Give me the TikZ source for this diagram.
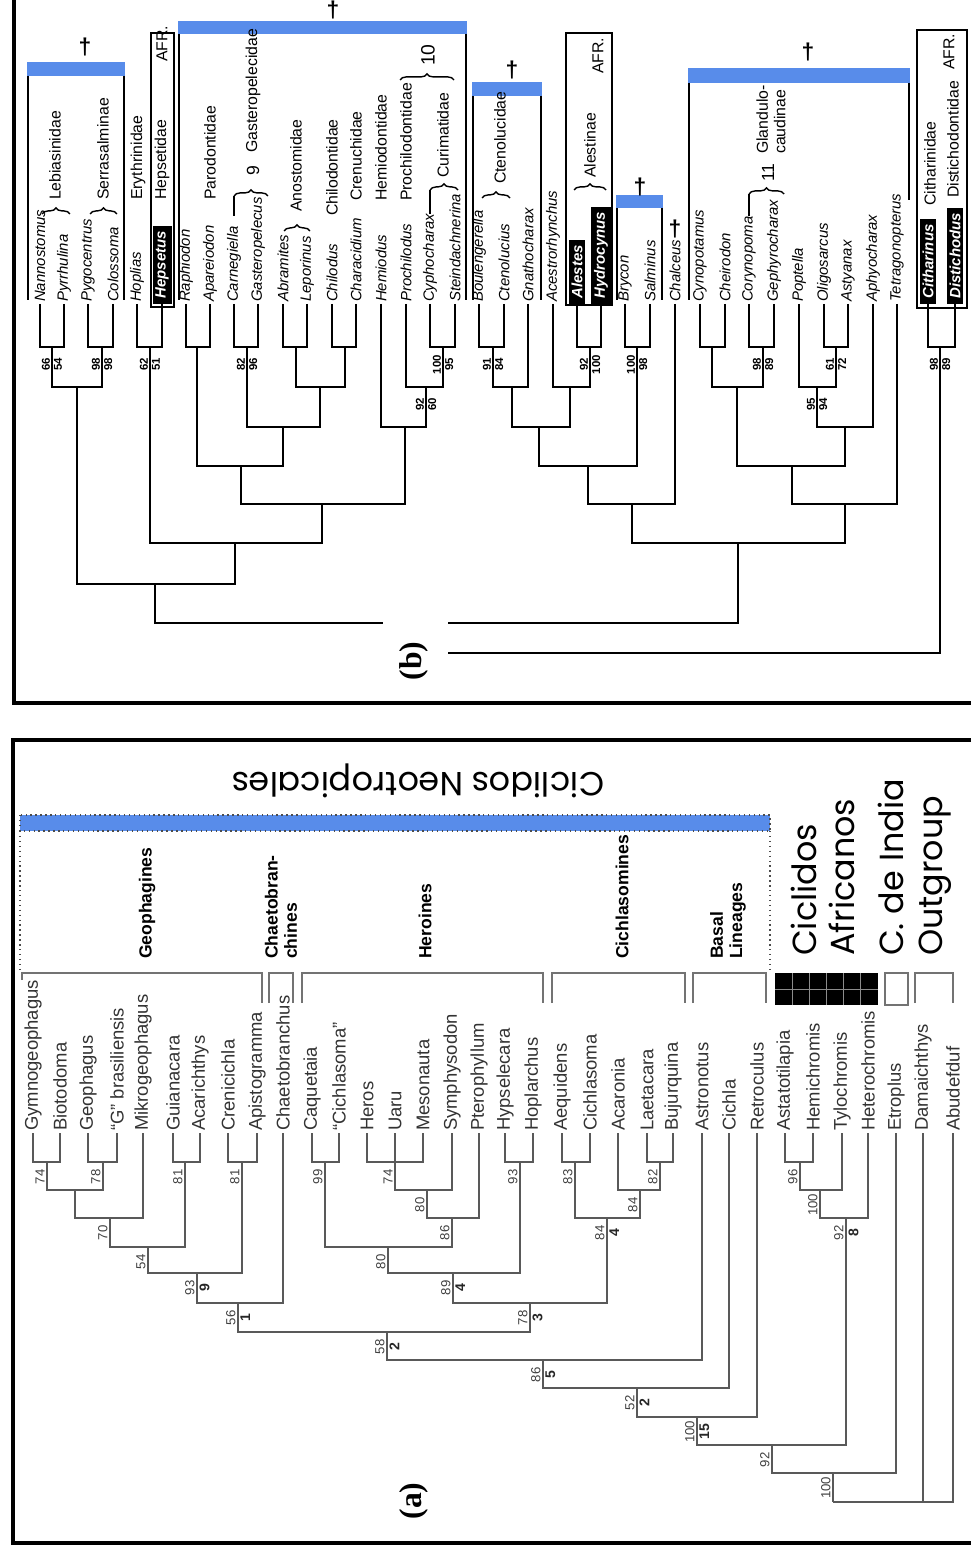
\documentclass[tikz,border=0pt]{standalone}
\usepackage{fontspec}
\setmainfont{Liberation Sans}
\newfontfamily\gothicfont{Poppins}
\newfontfamily\labfont{Liberation Serif}
\usetikzlibrary{positioning, calc, decorations.pathreplacing}
\definecolor{barblue}{RGB}{88,140,234}

\tikzset{
  frame/.style={line width=2.8pt},
  edgeb/.style={line width=1.4pt},
  edgea/.style={line width=0.8pt, draw=black!65},
  thinb/.style={line width=0.6pt},
  tipb/.style={rotate=90, anchor=west, inner sep=1pt, font=\fontsize{8.5}{9}\selectfont\itshape},
  tipblk/.style={tipb, fill=black, text=white, inner xsep=3pt, inner ysep=1.6pt, font=\fontsize{8.5}{9}\selectfont\bfseries\itshape},
  famb/.style={rotate=90, anchor=west, inner sep=1pt, align=left, font=\fontsize{9}{10}\selectfont},
  brc/.style={decorate, decoration={brace, amplitude=3.5pt}, line width=0.8pt},
  dagg/.style={font=\fontsize{13}{13}\selectfont\bfseries, inner sep=0pt},
  afr/.style={line width=1.2pt},
  nbl/.style={rotate=90, anchor=south, inner sep=1pt, font=\fontsize{6.5}{7}\selectfont\bfseries},
  nbr/.style={nbl, anchor=north},
  tipa/.style={rotate=90, anchor=west, inner sep=1pt, text=black!80, font=\fontsize{10.5}{11}\selectfont},
  nla/.style={rotate=90, anchor=south, inner sep=1.2pt, text=black!75, font=\fontsize{7.5}{8}\selectfont},
  nra/.style={nla, anchor=north, text=black!85, font=\fontsize{8}{8}\selectfont\bfseries},
  cladebox/.style={draw=black!55, line width=0.8pt},
  cladelab/.style={rotate=90, anchor=west, align=left, font=\fontsize{10}{11}\selectfont\bfseries},
  biglab/.style={rotate=90, anchor=west, align=left, font=\gothicfont\fontsize{19}{22}\selectfont},
  panlab/.style={rotate=90, font=\labfont\fontsize{18}{18}\selectfont\bfseries},
}

\begin{document}
\begin{tikzpicture}[x=0.02cm, y=-0.02cm]
    \useasboundingbox (0,0) rectangle (971,1554);

    % 枠
    \draw[frame] (14,0) -- (14,703) -- (971,703);
    \draw[frame] (971,740) -- (13,740) -- (13,1543) -- (971,1543);

    %%%%%%%%%% (b) %%%%%%%%%%
    % 青いバー
    \fill[barblue] (27,62) rectangle (125,76);
    \fill[barblue] (178,21) rectangle (467,34);
    \fill[barblue] (472,82) rectangle (542,96);
    \fill[barblue] (616,195) rectangle (663,208);
    \fill[barblue] (688,68) rectangle (910,83);
    \draw[thinb] (28,76) -- (28,300);
    \draw[thinb] (124,76) -- (124,300);
    \draw[thinb] (179,34) -- (179,300);
    \draw[thinb] (466,34) -- (466,300);
    \draw[thinb] (473,96) -- (473,300);
    \draw[thinb] (541,96) -- (541,300);
    \draw[thinb] (617,208) -- (617,300);
    \draw[thinb] (662,208) -- (662,300);
    \draw[thinb] (689,83) -- (689,300);
    \draw[thinb] (909,83) -- (909,200);

    % 十字
    \node[dagg] (dg1) at (85,47) {\textdagger};
    \node[dagg] (dg2) at (333,10) {\textdagger};
    \node[dagg] (dg3) at (512,70) {\textdagger};
    \node[dagg] (dg4) at (640,187) {\textdagger};
    \node[dagg] (dg5) at (675,229) {\textdagger};
    \node[dagg] (dg6) at (808,52) {\textdagger};

    % AFR. の枠
    \draw[afr] (151,33) rectangle (174,307);
    \draw[afr] (566,33) rectangle (612,305);
    \draw[afr] (917,30) rectangle (967,308);

    % 種名
    \node[tipb] (Nann) at (40,304) {Nannostomus};
    \node[tipb] (Pyrr) at (64,304) {Pyrrhulina};
    \node[tipb] (Pygo) at (88,304) {Pygocentrus};
    \node[tipb] (Colo) at (113,304) {Colossoma};
    \node[tipb] (Hopl) at (137,304) {Hoplias};
    \node[tipblk] (Heps) at (162,304) {Hepsetus};
    \node[tipb] (Raph) at (186,304) {Raphiodon};
    \node[tipb] (Apar) at (210,304) {Apareiodon};
    \node[tipb] (Carn) at (234,304) {Carnegiella};
    \node[tipb] (Gast) at (258,304) {Gasteropelecus};
    \node[tipb] (Abra) at (283,304) {Abramites};
    \node[tipb] (Lepo) at (307,304) {Leporinus};
    \node[tipb] (Chil) at (332,304) {Chilodus};
    \node[tipb] (Char) at (356,304) {Characidium};
    \node[tipb] (Hemi) at (381,304) {Hemiodus};
    \node[tipb] (Proc) at (406,304) {Prochilodus};
    \node[tipb] (Cyph) at (430,304) {Cyphocharax};
    \node[tipb] (Stei) at (455,304) {Steindachnerina};
    \node[tipb] (Boul) at (479,304) {Boulengerella};
    \node[tipb] (Cten) at (504,304) {Ctenolucius};
    \node[tipb] (Gnat) at (528,304) {Gnathocharax};
    \node[tipb] (Aces) at (553,304) {Acestrorhynchus};
    \node[tipblk] (Ales) at (577,304) {Alestes};
    \node[tipblk] (Hydr) at (601,304) {Hydrocynus};
    \node[tipb] (Bryc) at (625,304) {Brycon};
    \node[tipb] (Salm) at (650,304) {Salminus};
    \node[tipb] (Chal) at (675,304) {Chalceus};
    \node[tipb] (Cyno) at (700,304) {Cynopotamus};
    \node[tipb] (Chei) at (725,304) {Cheirodon};
    \node[tipb] (Cory) at (749,304) {Corynopoma};
    \node[tipb] (Geph) at (774,304) {Gephyrocharax};
    \node[tipb] (Popt) at (799,304) {Poptella};
    \node[tipb] (Olig) at (824,304) {Oligosarcus};
    \node[tipb] (Asty) at (848,304) {Astyanax};
    \node[tipb] (Aphy) at (873,304) {Aphyocharax};
    \node[tipb] (Tetr) at (897,304) {Tetragonopterus};
    \node[tipblk] (Cith) at (928,304) {Citharinus};
    \node[tipblk] (Dist) at (955,304) {Distichodus};

    % 科名
    \node[famb] (lebi) at (55,202) {Lebiasinidae};
    \draw[brc] (42,214) -- (70,214);
    \node[famb] (serr) at (103,202) {Serrasalminae};
    \draw[brc] (90,214) -- (117,214);
    \node[famb] (eryt) at (138,202) {Erythrinidae};
    \node[famb] (heps) at (162,202) {Hepsetidae};
    \node[famb] (afr1) at (162,64) {AFR.};
    \node[famb] (paro) at (210,202) {Parodontidae};
    \node[famb] (gaste) at (253,155) {Gasteropelecidae};
    \node[famb, font=\fontsize{10}{10}\selectfont] (n9) at (253,178) {9};
    \draw[thinb] (234,216) -- (234,196);
    \draw[brc] (234,196) -- (268,196);
    \node[famb] (anos) at (296,214) {Anostomidae};
    \draw[brc] (284,231) -- (310,231);
    \node[famb] (chilo) at (332,218) {Chilodontidae};
    \node[famb] (cren) at (356,203) {Crenuchidae};
    \node[famb] (hemio) at (381,203) {Hemiodontidae};
    \node[famb] (proch) at (406,203) {Prochilodontidae};
    \node[famb] (curi) at (443,180) {Curimatidae};
    \draw[thinb] (430,214) -- (430,190);
    \draw[brc] (430,190) -- (458,190);
    \draw[brc] (400,80) -- (454,80);
    \node[famb, font=\fontsize{11}{11}\selectfont] (n10) at (428,68) {10};
    \node[famb] (cteno) at (500,186) {Ctenolucidae};
    \draw[brc] (482,198) -- (510,198);
    \node[famb] (ales) at (590,180) {Alestinae};
    \draw[brc] (574,190) -- (606,190);
    \node[famb] (afr2) at (598,76) {AFR.};
    \node[famb] (glan) at (771,156) {Glandulo-\\caudinae};
    \node[famb, font=\fontsize{10}{10}\selectfont] (n11) at (768,184) {11};
    \draw[thinb] (749,216) -- (749,194);
    \draw[brc] (749,194) -- (784,194);
    \node[famb] (cith) at (930,208) {Citharinidae};
    \node[famb] (dist) at (953,200) {Distichodontidae};
    \node[famb] (afr3) at (949,72) {AFR.};

    % 分岐点
    \coordinate (b1) at (52,347);
    \coordinate (b2) at (102,347);
    \coordinate (b3) at (77,387);
    \coordinate (b4) at (150,347);
    \coordinate (b5) at (197,347);
    \coordinate (b6) at (247,347);
    \coordinate (b7) at (296,347);
    \coordinate (b8) at (345,347);
    \coordinate (b9) at (320,387);
    \coordinate (b10) at (283,427);
    \coordinate (b11) at (241,466);
    \coordinate (b12) at (443,347);
    \coordinate (b13) at (426,387);
    \coordinate (b14) at (405,427);
    \coordinate (b15) at (322,504);
    \coordinate (b16) at (235,543);
    \coordinate (b17) at (155,584);
    \coordinate (b18) at (493,347);
    \coordinate (b19) at (512,387);
    \coordinate (b20) at (590,347);
    \coordinate (b21) at (570,387);
    \coordinate (b22) at (539,427);
    \coordinate (b23) at (637,347);
    \coordinate (b24) at (588,466);
    \coordinate (b25) at (632,504);
    \coordinate (b26) at (712,347);
    \coordinate (b27) at (763,347);
    \coordinate (b28) at (737,387);
    \coordinate (b29) at (836,347);
    \coordinate (b30) at (817,387);
    \coordinate (b31) at (845,427);
    \coordinate (b32) at (792,466);
    \coordinate (b33) at (845,504);
    \coordinate (b34) at (738,543);
    \coordinate (b35) at (415,623);
    \coordinate (b36) at (940,347);
    \coordinate (b37) at (415,653);

    % 枝
    \draw[edgeb] (Nann.west) |- (b1);
    \draw[edgeb] (Pyrr.west) |- (b1);
    \draw[edgeb] (Pygo.west) |- (b2);
    \draw[edgeb] (Colo.west) |- (b2);
    \draw[edgeb] (b1) |- (b3);
    \draw[edgeb] (b2) |- (b3);
    \draw[edgeb] (Hopl.west) |- (b4);
    \draw[edgeb] (Heps.west) |- (b4);
    \draw[edgeb] (Raph.west) |- (b5);
    \draw[edgeb] (Apar.west) |- (b5);
    \draw[edgeb] (Carn.west) |- (b6);
    \draw[edgeb] (Gast.west) |- (b6);
    \draw[edgeb] (Abra.west) |- (b7);
    \draw[edgeb] (Lepo.west) |- (b7);
    \draw[edgeb] (Chil.west) |- (b8);
    \draw[edgeb] (Char.west) |- (b8);
    \draw[edgeb] (b7) |- (b9);
    \draw[edgeb] (b8) |- (b9);
    \draw[edgeb] (b6) |- (b10);
    \draw[edgeb] (b9) |- (b10);
    \draw[edgeb] (b5) |- (b11);
    \draw[edgeb] (b10) |- (b11);
    \draw[edgeb] (Cyph.west) |- (b12);
    \draw[edgeb] (Stei.west) |- (b12);
    \draw[edgeb] (Proc.west) |- (b13);
    \draw[edgeb] (b12) |- (b13);
    \draw[edgeb] (Hemi.west) |- (b14);
    \draw[edgeb] (b13) |- (b14);
    \draw[edgeb] (b11) |- (b15);
    \draw[edgeb] (b14) |- (b15);
    \draw[edgeb] (b4) |- (b16);
    \draw[edgeb] (b15) |- (b16);
    \draw[edgeb] (b3) |- (b17);
    \draw[edgeb] (b16) |- (b17);
    \draw[edgeb] (Boul.west) |- (b18);
    \draw[edgeb] (Cten.west) |- (b18);
    \draw[edgeb] (b18) |- (b19);
    \draw[edgeb] (Gnat.west) |- (b19);
    \draw[edgeb] (Ales.west) |- (b20);
    \draw[edgeb] (Hydr.west) |- (b20);
    \draw[edgeb] (Aces.west) |- (b21);
    \draw[edgeb] (b20) |- (b21);
    \draw[edgeb] (b19) |- (b22);
    \draw[edgeb] (b21) |- (b22);
    \draw[edgeb] (Bryc.west) |- (b23);
    \draw[edgeb] (Salm.west) |- (b23);
    \draw[edgeb] (b22) |- (b24);
    \draw[edgeb] (b23) |- (b24);
    \draw[edgeb] (b24) |- (b25);
    \draw[edgeb] (Chal.west) |- (b25);
    \draw[edgeb] (Cyno.west) |- (b26);
    \draw[edgeb] (Chei.west) |- (b26);
    \draw[edgeb] (Cory.west) |- (b27);
    \draw[edgeb] (Geph.west) |- (b27);
    \draw[edgeb] (b26) |- (b28);
    \draw[edgeb] (b27) |- (b28);
    \draw[edgeb] (Olig.west) |- (b29);
    \draw[edgeb] (Asty.west) |- (b29);
    \draw[edgeb] (Popt.west) |- (b30);
    \draw[edgeb] (b29) |- (b30);
    \draw[edgeb] (b30) |- (b31);
    \draw[edgeb] (Aphy.west) |- (b31);
    \draw[edgeb] (b28) |- (b32);
    \draw[edgeb] (b31) |- (b32);
    \draw[edgeb] (b32) |- (b33);
    \draw[edgeb] (Tetr.west) |- (b33);
    \draw[edgeb] (b25) |- (b34);
    \draw[edgeb] (b33) |- (b34);
    \draw[edgeb] (b17) |- (b35);
    \draw[edgeb] (b34) |- (b35);
    \draw[edgeb] (Cith.west) |- (b36);
    \draw[edgeb] (Dist.west) |- (b36);
    \draw[edgeb] (b35) |- (b37);
    \draw[edgeb] (b36) |- (b37);

    % ブートストラップ値
    \node[nbl] (s1l) at ([yshift=-10pt]b1) {66};
    \node[nbr] (s1r) at ([yshift=-10pt]b1) {54};
    \node[nbl] (s2l) at ([yshift=-10pt]b2) {98};
    \node[nbr] (s2r) at ([yshift=-10pt]b2) {98};
    \node[nbl] (s4l) at ([yshift=-10pt]b4) {62};
    \node[nbr] (s4r) at ([yshift=-10pt]b4) {51};
    \node[nbl] (s6l) at ([yshift=-10pt]b6) {82};
    \node[nbr] (s6r) at ([yshift=-10pt]b6) {96};
    \node[nbl] (s12l) at ([yshift=-10pt]b12) {100};
    \node[nbr] (s12r) at ([yshift=-10pt]b12) {95};
    \node[nbl] (s13l) at ([yshift=-10pt]b13) {92};
    \node[nbr] (s13r) at ([yshift=-10pt]b13) {60};
    \node[nbl] (s18l) at ([yshift=-10pt]b18) {91};
    \node[nbr] (s18r) at ([yshift=-10pt]b18) {84};
    \node[nbl] (s20l) at ([yshift=-10pt]b20) {92};
    \node[nbr] (s20r) at ([yshift=-10pt]b20) {100};
    \node[nbl] (s23l) at ([yshift=-10pt]b23) {100};
    \node[nbr] (s23r) at ([yshift=-10pt]b23) {98};
    \node[nbl] (s27l) at ([yshift=-10pt]b27) {98};
    \node[nbr] (s27r) at ([yshift=-10pt]b27) {89};
    \node[nbl] (s29l) at ([yshift=-10pt]b29) {61};
    \node[nbr] (s29r) at ([yshift=-10pt]b29) {72};
    \node[nbl] (s30l) at ([yshift=-10pt]b30) {95};
    \node[nbr] (s30r) at ([yshift=-10pt]b30) {94};
    \node[nbl] (s36l) at ([yshift=-10pt]b36) {98};
    \node[nbr] (s36r) at ([yshift=-10pt]b36) {89};

    % (b)
    \fill[white] (383,612) rectangle (448,698);
    \node[panlab] (labb) at (414,661) {(b)};

    %%%%%%%%%% (a) %%%%%%%%%%
    % 青いバーと見出し
    \node[rotate=180, font=\gothicfont\fontsize{19}{20}\selectfont] (neo) at (418,781) {Ciclidos Neotropicales};
    \filldraw[fill=barblue, draw=black!70, dotted, line width=0.8pt] (20,815) rectangle (770,831);
    \draw[dotted, black!70, line width=0.8pt] (20,831) -- (20,970);
    \draw[dotted, black!70, line width=0.8pt] (770,831) -- (770,970);

    % 群の枠
    \draw[cladebox] (22,980) -- (22,973) -- (262,973) -- (262,1003);
    \draw[cladebox] (269,1003) -- (269,973) -- (293,973) -- (293,1003);
    \draw[cladebox] (302,1003) -- (302,973) -- (543,973) -- (543,1003);
    \draw[cladebox] (552,1003) -- (552,973) -- (685,973) -- (685,1003);
    \draw[cladebox] (693,1003) -- (693,973) -- (766,973) -- (766,1003);
    \fill[black] (775,973) rectangle (878,1005);
    \draw[black!45, line width=0.4pt] (792,973) -- (792,1005) (809,973) -- (809,1005)
        (826,973) -- (826,1005) (843,973) -- (843,1005) (860,973) -- (860,1005)
        (775,989) -- (878,989);
    \draw[cladebox] (885,973) rectangle (908,1005);
    \draw[cladebox] (915,1003) -- (915,973) -- (953,973) -- (953,1003);

    \node[cladelab] (geo) at (147,965) {Geophagines};
    \node[cladelab] (chaet) at (281,965) {Chaetobran-\\chines};
    \node[cladelab] (hero) at (425,965) {Heroines};
    \node[cladelab] (cichl) at (622,965) {Cichlasomines};
    \node[cladelab] (basal) at (728,965) {Basal\\Lineages};
    \node[biglab] (afric) at (823,962) {Ciclidos\\Africanos};
    \node[biglab] (india) at (915,962) {C. de India\\Outgroup};

    % 種名
    \node[tipa] (Gymn) at (33,1133) {Gymnogeophagus};
    \node[tipa] (Biot) at (60,1133) {Biotodoma};
    \node[tipa] (Geop) at (88,1133) {Geophagus};
    \node[tipa] (Gbra) at (117,1133) {``G'' brasiliensis};
    \node[tipa] (Mikr) at (143,1133) {Mikrogeophagus};
    \node[tipa] (Guia) at (173,1133) {Guianacara};
    \node[tipa] (Acar) at (200,1133) {Acarichthys};
    \node[tipa] (Cren) at (228,1133) {Crenicichla};
    \node[tipa] (Apis) at (257,1133) {Apistogramma};
    \node[tipa] (Chae) at (283,1133) {Chaetobranchus};
    \node[tipa] (Caqu) at (312,1133) {Caquetaia};
    \node[tipa] (Cicq) at (339,1133) {``Cichlasoma''};
    \node[tipa] (Hero) at (367,1133) {Heros};
    \node[tipa] (Uaru) at (395,1133) {Uaru};
    \node[tipa] (Meso) at (423,1133) {Mesonauta};
    \node[tipa] (Symp) at (452,1133) {Symphysodon};
    \node[tipa] (Pter) at (479,1133) {Pterophyllum};
    \node[tipa] (Hyps) at (505,1133) {Hypselecara};
    \node[tipa] (Hopa) at (533,1133) {Hoplarchus};
    \node[tipa] (Aequ) at (562,1133) {Aequidens};
    \node[tipa] (Cich) at (590,1133) {Cichlasoma};
    \node[tipa] (Acro) at (618,1133) {Acaronia};
    \node[tipa] (Laet) at (647,1133) {Laetacara};
    \node[tipa] (Buju) at (673,1133) {Bujurquina};
    \node[tipa] (Astr) at (702,1133) {Astronotus};
    \node[tipa] (Cila) at (729,1133) {Cichla};
    \node[tipa] (Retr) at (757,1133) {Retroculus};
    \node[tipa] (Asta) at (785,1133) {Astatotilapia};
    \node[tipa] (Hemc) at (813,1133) {Hemichromis};
    \node[tipa] (Tylo) at (842,1133) {Tylochromis};
    \node[tipa] (Hete) at (868,1133) {Heterochromis};
    \node[tipa] (Etro) at (896,1133) {Etroplus};
    \node[tipa] (Dama) at (923,1133) {Damaichthys};
    \node[tipa] (Abud) at (953,1133) {Abudefduf};

    % 分岐点
    \coordinate (a1) at (47,1162);
    \coordinate (a2) at (103,1162);
    \coordinate (a3) at (75,1190);
    \coordinate (a4) at (110,1218);
    \coordinate (a5) at (185,1162);
    \coordinate (a6) at (148,1247);
    \coordinate (a7) at (242,1162);
    \coordinate (a8) at (197,1273);
    \coordinate (a9) at (238,1303);
    \coordinate (a10) at (325,1162);
    \coordinate (a11) at (395,1162);
    \coordinate (a12) at (427,1190);
    \coordinate (a13) at (452,1218);
    \coordinate (a14) at (388,1247);
    \coordinate (a15) at (520,1162);
    \coordinate (a16) at (453,1273);
    \coordinate (a17) at (575,1162);
    \coordinate (a18) at (660,1162);
    \coordinate (a19) at (640,1190);
    \coordinate (a20) at (607,1218);
    \coordinate (a21) at (530,1303);
    \coordinate (a22) at (387,1332);
    \coordinate (a23) at (543,1360);
    \coordinate (a24) at (637,1388);
    \coordinate (a25) at (697,1417);
    \coordinate (a26) at (800,1162);
    \coordinate (a27) at (820,1190);
    \coordinate (a28) at (846,1218);
    \coordinate (a29) at (772,1445);
    \coordinate (a30) at (833,1473);
    \coordinate (a31) at (833,1502);

    % 枝
    \draw[edgea] (Gymn.west) |- (a1);
    \draw[edgea] (Biot.west) |- (a1);
    \draw[edgea] (Geop.west) |- (a2);
    \draw[edgea] (Gbra.west) |- (a2);
    \draw[edgea] (a1) |- (a3);
    \draw[edgea] (a2) |- (a3);
    \draw[edgea] (a3) |- (a4);
    \draw[edgea] (Mikr.west) |- (a4);
    \draw[edgea] (Guia.west) |- (a5);
    \draw[edgea] (Acar.west) |- (a5);
    \draw[edgea] (a4) |- (a6);
    \draw[edgea] (a5) |- (a6);
    \draw[edgea] (Cren.west) |- (a7);
    \draw[edgea] (Apis.west) |- (a7);
    \draw[edgea] (a6) |- (a8);
    \draw[edgea] (a7) |- (a8);
    \draw[edgea] (a8) |- (a9);
    \draw[edgea] (Chae.west) |- (a9);
    \draw[edgea] (Caqu.west) |- (a10);
    \draw[edgea] (Cicq.west) |- (a10);
    \draw[edgea] (Hero.west) |- (a11);
    \draw[edgea] (Meso.west) |- (a11);
    \draw[edgea] (a11) |- (a12);
    \draw[edgea] (Uaru.west) |- (a12);
    \draw[edgea] (Symp.west) |- (a12);
    \draw[edgea] (a12) |- (a13);
    \draw[edgea] (Pter.west) |- (a13);
    \draw[edgea] (a10) |- (a14);
    \draw[edgea] (a13) |- (a14);
    \draw[edgea] (Hyps.west) |- (a15);
    \draw[edgea] (Hopa.west) |- (a15);
    \draw[edgea] (a14) |- (a16);
    \draw[edgea] (a15) |- (a16);
    \draw[edgea] (Aequ.west) |- (a17);
    \draw[edgea] (Cich.west) |- (a17);
    \draw[edgea] (Laet.west) |- (a18);
    \draw[edgea] (Buju.west) |- (a18);
    \draw[edgea] (Acro.west) |- (a19);
    \draw[edgea] (a18) |- (a19);
    \draw[edgea] (a17) |- (a20);
    \draw[edgea] (a19) |- (a20);
    \draw[edgea] (a16) |- (a21);
    \draw[edgea] (a20) |- (a21);
    \draw[edgea] (a9) |- (a22);
    \draw[edgea] (a21) |- (a22);
    \draw[edgea] (a22) |- (a23);
    \draw[edgea] (Astr.west) |- (a23);
    \draw[edgea] (a23) |- (a24);
    \draw[edgea] (Cila.west) |- (a24);
    \draw[edgea] (a24) |- (a25);
    \draw[edgea] (Retr.west) |- (a25);
    \draw[edgea] (Asta.west) |- (a26);
    \draw[edgea] (Hemc.west) |- (a26);
    \draw[edgea] (a26) |- (a27);
    \draw[edgea] (Tylo.west) |- (a27);
    \draw[edgea] (a27) |- (a28);
    \draw[edgea] (Hete.west) |- (a28);
    \draw[edgea] (a25) |- (a29);
    \draw[edgea] (a28) |- (a29);
    \draw[edgea] (a29) |- (a30);
    \draw[edgea] (Etro.west) |- (a30);
    \draw[edgea] (a30) |- (a31);
    \draw[edgea] (Dama.west) |- (a31);
    \draw[edgea] (Abud.west) |- (a31);

    % 支持値
    \node[nla] (t1) at ([yshift=-8.5pt]a1) {74};
    \node[nla] (t2) at ([yshift=-8.5pt]a2) {78};
    \node[nla] (t4) at ([yshift=-8.5pt]a4) {70};
    \node[nla] (t5) at ([yshift=-8.5pt]a5) {81};
    \node[nla] (t6) at ([yshift=-8.5pt]a6) {54};
    \node[nla] (t7) at ([yshift=-8.5pt]a7) {81};
    \node[nla] (t8) at ([yshift=-8.5pt]a8) {93};
    \node[nra] (r8) at ([yshift=-8.5pt]a8) {9};
    \node[nla] (t9) at ([yshift=-8.5pt]a9) {56};
    \node[nra] (r9) at ([yshift=-8.5pt]a9) {1};
    \node[nla] (t10) at ([yshift=-8.5pt]a10) {99};
    \node[nla] (t11) at ([yshift=-8.5pt]a11) {74};
    \node[nla] (t12) at ([yshift=-8.5pt]a12) {80};
    \node[nla] (t13) at ([yshift=-8.5pt]a13) {86};
    \node[nla] (t14) at ([yshift=-8.5pt]a14) {80};
    \node[nla] (t15) at ([yshift=-8.5pt]a15) {93};
    \node[nla] (t16) at ([yshift=-8.5pt]a16) {89};
    \node[nra] (r16) at ([yshift=-8.5pt]a16) {4};
    \node[nla] (t17) at ([yshift=-8.5pt]a17) {83};
    \node[nla] (t18) at ([yshift=-8.5pt]a18) {82};
    \node[nla] (t19) at ([yshift=-8.5pt]a19) {84};
    \node[nla] (t20) at ([yshift=-8.5pt]a20) {84};
    \node[nra] (r20) at ([yshift=-8.5pt]a20) {4};
    \node[nla] (t21) at ([yshift=-8.5pt]a21) {78};
    \node[nra] (r21) at ([yshift=-8.5pt]a21) {3};
    \node[nla] (t22) at ([yshift=-8.5pt]a22) {58};
    \node[nra] (r22) at ([yshift=-8.5pt]a22) {2};
    \node[nla] (t23) at ([yshift=-8.5pt]a23) {86};
    \node[nra] (r23) at ([yshift=-8.5pt]a23) {5};
    \node[nla] (t24) at ([yshift=-8.5pt]a24) {52};
    \node[nra] (r24) at ([yshift=-8.5pt]a24) {2};
    \node[nla] (t25) at ([yshift=-8.5pt]a25) {100};
    \node[nra] (r25) at ([yshift=-8.5pt]a25) {15};
    \node[nla] (t26) at ([yshift=-8.5pt]a26) {96};
    \node[nla] (t27) at ([yshift=-8.5pt]a27) {100};
    \node[nla] (t28) at ([yshift=-8.5pt]a28) {92};
    \node[nra] (r28) at ([yshift=-8.5pt]a28) {8};
    \node[nla] (t29) at ([yshift=-8.5pt]a29) {92};
    \node[nla] (t30) at ([yshift=-8.5pt]a30) {100};

    % (a)
    \node[panlab] (laba) at (414,1501) {(a)};

\end{tikzpicture}
\end{document}
